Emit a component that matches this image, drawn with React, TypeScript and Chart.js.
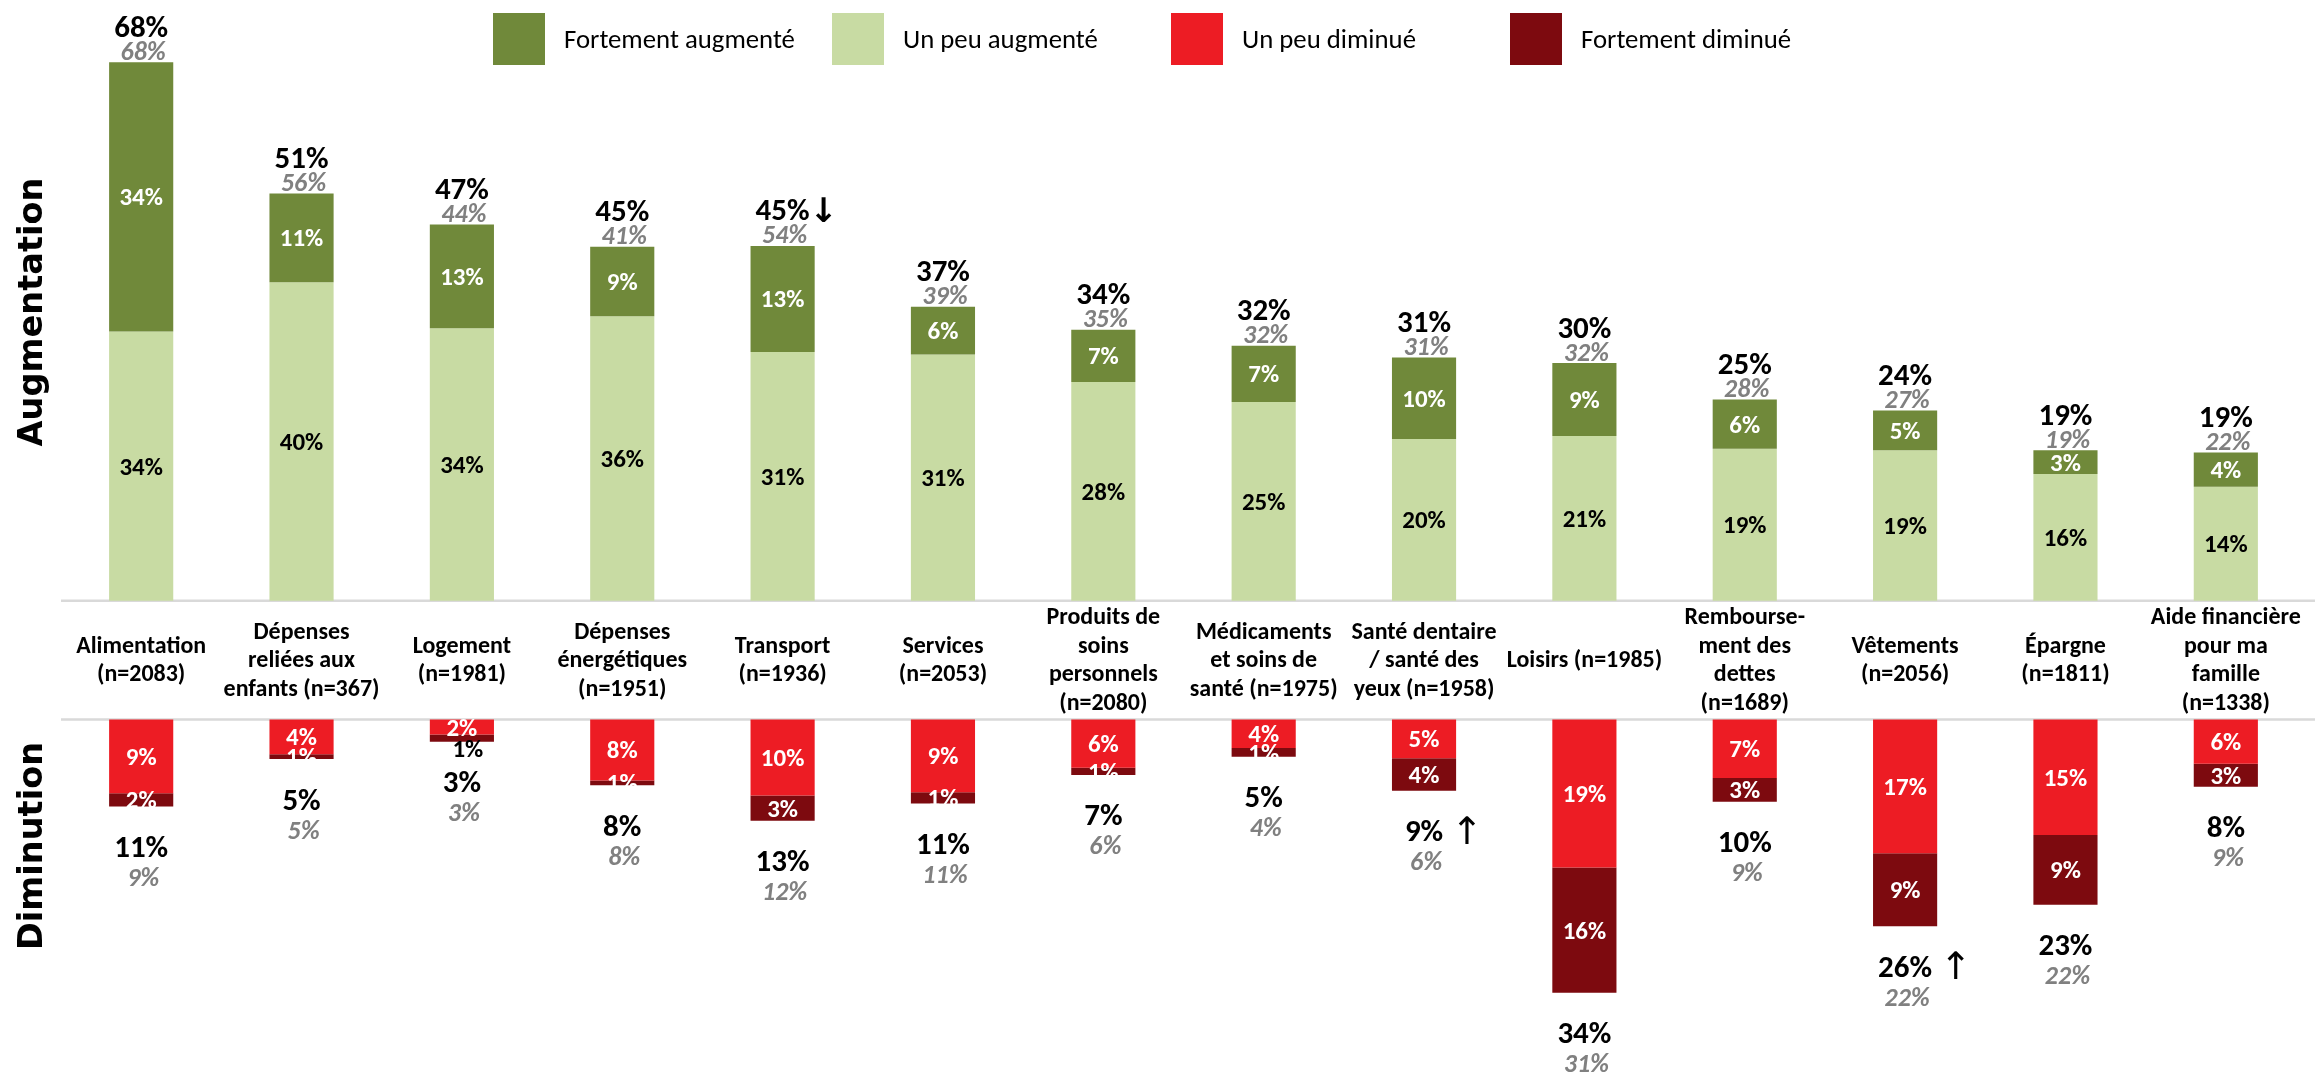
import React, { useEffect, useRef } from "react";
import { Chart, registerables } from "chart.js";

Chart.register(...registerables);

const W = 2315;
const H = 1075;

// ---------- DATA ----------
const categories: string[][] = [
  ["Alimentation", "(n=2083)"],
  ["Dépenses", "reliées aux", "enfants (n=367)"],
  ["Logement", "(n=1981)"],
  ["Dépenses", "énergétiques", "(n=1951)"],
  ["Transport", "(n=1936)"],
  ["Services", "(n=2053)"],
  ["Produits de", "soins", "personnels", "(n=2080)"],
  ["Médicaments", "et soins de", "santé (n=1975)"],
  ["Santé dentaire", "/ santé des", "yeux (n=1958)"],
  ["Loisirs (n=1985)"],
  ["Rembourse-", "ment des", "dettes", "(n=1689)"],
  ["Vêtements", "(n=2056)"],
  ["Épargne", "(n=1811)"],
  ["Aide financière", "pour ma", "famille", "(n=1338)"],
];

const seriesNames = ["Fortement augmenté", "Un peu augmenté", "Un peu diminué", "Fortement diminué"];

const slightUp = [34, 40.2, 34.4, 35.9, 31.4, 31.1, 27.6, 25.1, 20.4, 20.8, 19.2, 19, 16, 14.4];
const strongUp = [34, 11.2, 13.1, 8.8, 13.4, 6, 6.6, 7.1, 10.3, 9.2, 6.2, 5, 3, 4.3];
const totalUp = [68, 51, 47, 45, 45, 37, 34, 32, 31, 30, 25, 24, 19, 19];
const prevUp = [68, 56, 44, 41, 54, 39, 35, 32, 31, 32, 28, 27, 19, 22];
const trendUp = ["", "", "", "", "↓", "", "", "", "", "", "", "", "", ""];

const slightDown = [9.3, 4.4, 1.9, 7.7, 9.6, 9.2, 6.1, 3.6, 4.9, 18.7, 7.4, 16.9, 14.6, 5.6];
const strongDown = [1.7, 0.6, 0.9, 0.6, 3.2, 1.4, 0.9, 1.1, 4.1, 15.8, 3.0, 9.2, 8.8, 2.9];
const totalDown = [11, 5, 3, 8, 13, 11, 7, 5, 9, 34, 10, 26, 23, 8];
const prevDown = [9, 5, 3, 8, 12, 11, 6, 4, 6, 31, 9, 22, 22, 9];
const trendDown = ["", "", "", "", "", "", "", "", "↑", "", "", "↑", "", ""];

// ---------- STYLE ----------
const C_STRONG_UP = "#70893A";
const C_SLIGHT_UP = "#C8DBA3";
const C_SLIGHT_DOWN = "#ED1C24";
const C_STRONG_DOWN = "#7D0A0F";
const C_GRAY_TEXT = "#808080";
const C_LINE = "#D9D9D9";

const GAP = 15; // value-space gap between upper and lower panels
const Y_MAX = 70;
const Y_MIN = -(GAP + 36);

function pickFont(cands: string[]): string {
  const c = document.createElement("canvas").getContext("2d")!;
  const t = "Fortement augmenté 0123456789%";
  for (const f of cands) {
    let ok = false;
    for (const g of ["monospace", "serif"]) {
      c.font = `40px ${g}`;
      const a = c.measureText(t).width;
      c.font = `40px "${f}", ${g}`;
      const b = c.measureText(t).width;
      if (Math.abs(a - b) > 0.5) ok = true;
    }
    if (ok) return f;
  }
  return "sans-serif";
}

export default function App() {
  const ref = useRef<HTMLCanvasElement>(null);

  useEffect(() => {
    const canvas = ref.current!;
    const F = pickFont(["Carlito", "Calibri", "Open Sans", "Noto Sans"]);
    const m = canvas.getContext("2d")!;
    m.font = `25px "${F}"`;
    const kR = 231 / m.measureText("Fortement augmenté").width;
    m.font = `bold 24px "${F}"`;
    const kB = 130 / m.measureText("Alimentation").width;
    m.font = `bold 33px "DejaVu Sans"`;
    const tSize = (33 * 269) / m.measureText("Augmentation").width;

    const fR = (s: number) => `${(s * kR).toFixed(2)}px "${F}"`;
    const fB = (s: number) => `bold ${(s * kB).toFixed(2)}px "${F}"`;
    const fBI = (s: number) => `italic bold ${(s * kB).toFixed(2)}px "${F}"`;

    const drawC = (
      ctx: CanvasRenderingContext2D,
      text: string,
      x: number,
      cy: number,
      font: string,
      color: string,
      align: CanvasTextAlign = "center"
    ) => {
      ctx.font = font;
      ctx.fillStyle = color;
      ctx.textAlign = align;
      ctx.textBaseline = "alphabetic";
      const mm = ctx.measureText(text);
      const asc = mm.actualBoundingBoxAscent;
      const desc = mm.actualBoundingBoxDescent;
      ctx.fillText(text, x, cy + (asc - desc) / 2);
      return mm.width;
    };

    const plugin = {
      id: "customDraw",
      beforeDatasetsDraw(chart: any) {
        const { ctx, chartArea, scales } = chart;
        const y = scales.y;
        ctx.save();
        ctx.strokeStyle = C_LINE;
        ctx.lineWidth = 2.5;
        [0, -GAP].forEach((v) => {
          const py = y.getPixelForValue(v);
          ctx.beginPath();
          ctx.moveTo(chartArea.left, py);
          ctx.lineTo(W, py);
          ctx.stroke();
        });
        ctx.restore();
      },
      afterDatasetsDraw(chart: any) {
        const { ctx, scales } = chart;
        const y = scales.y;
        const metas = [0, 1, 2, 3].map((i) => chart.getDatasetMeta(i));
        ctx.save();

        const inner = fB(25);
        categories.forEach((lines, i) => {
          const eStrong = metas[0].data[i];
          const eSlight = metas[1].data[i];
          const eRed = metas[2].data[i];
          const eDark = metas[3].data[i];
          const x = eStrong.x;
          const mid = (e: any) => (e.y + e.base) / 2;

          // upper segment labels
          drawC(ctx, `${Math.round(slightUp[i])}%`, x, mid(eSlight), inner, "#000");
          drawC(ctx, `${Math.round(strongUp[i])}%`, x, mid(eStrong), inner, "#fff");

          // upper totals
          const top = Math.min(eStrong.y, eStrong.base);
          const wT = drawC(ctx, `${totalUp[i]}%`, x, top - 36, fB(31), "#000");
          if (trendUp[i]) {
            drawC(ctx, trendUp[i], x + wT / 2, top - 36, `bold 34px "DejaVu Sans"`, "#000", "left");
          }
          drawC(ctx, `${prevUp[i]}%`, x + 2, top - 12, fBI(26), C_GRAY_TEXT);

          // lower segment labels
          drawC(ctx, `${Math.round(slightDown[i])}%`, x, mid(eRed), inner, "#fff");
          const bottom = Math.max(eDark.y, eDark.base);
          if (slightDown[i] + strongDown[i] < 4) {
            drawC(ctx, `${Math.round(strongDown[i])}%`, x + 6, bottom + 7, inner, "#000");
          } else {
            drawC(ctx, `${Math.round(strongDown[i])}%`, x, mid(eDark), inner, "#fff");
          }

          // lower totals
          const wD = drawC(ctx, `${totalDown[i]}%`, x, bottom + 40, fB(31), "#000");
          if (trendDown[i]) {
            drawC(ctx, trendDown[i], x + wD / 2 + 8, bottom + 39, `38px "DejaVu Sans"`, "#000", "left");
          }
          drawC(ctx, `${prevDown[i]}%`, x + 2, bottom + 70, fBI(26), C_GRAY_TEXT);

          // category labels in gap
          const cyMid = (y.getPixelForValue(0) + y.getPixelForValue(-GAP)) / 2 - 1;
          const lh = 28.5;
          ctx.font = fB(24);
          const capH = ctx.measureText("H").actualBoundingBoxAscent;
          lines.forEach((ln, j) => {
            const cy = cyMid + (j - (lines.length - 1) / 2) * lh;
            ctx.font = fB(24);
            ctx.fillStyle = "#000";
            ctx.textAlign = "center";
            ctx.textBaseline = "alphabetic";
            ctx.fillText(ln, x, cy + capH / 2);
          });
        });

        // axis titles
        const drawTitle = (text: string, cy: number) => {
          ctx.save();
          ctx.translate(42, cy);
          ctx.rotate(-Math.PI / 2);
          ctx.font = `bold ${tSize.toFixed(2)}px "DejaVu Sans"`;
          ctx.fillStyle = "#000";
          ctx.textAlign = "center";
          ctx.textBaseline = "alphabetic";
          ctx.fillText(text, 0, 0);
          ctx.restore();
        };
        drawTitle("Augmentation", 312);
        drawTitle("Diminution", 846);

        // legend
        const ds = chart.data.datasets;
        ds.forEach((d: any, k: number) => {
          const sx = 493 + k * 339;
          ctx.fillStyle = d.backgroundColor;
          ctx.fillRect(sx, 13, 52, 52);
          ctx.font = fR(25);
          ctx.fillStyle = "#000";
          ctx.textAlign = "left";
          ctx.textBaseline = "alphabetic";
          const capL = ctx.measureText("F").actualBoundingBoxAscent;
          ctx.fillText(d.label, sx + 71, 39 + capL / 2);
        });

        ctx.restore();
      },
    };

    const common = { barPercentage: 0.4, categoryPercentage: 1, borderWidth: 0 };

    const chart = new Chart(canvas, {
      type: "bar",
      data: {
        labels: categories.map((c) => c.join(" ")),
        datasets: [
          {
            label: seriesNames[0],
            data: slightUp.map((v, i) => [v, v + strongUp[i]]),
            backgroundColor: C_STRONG_UP,
            ...common,
          },
          {
            label: seriesNames[1],
            data: slightUp.map((v) => [0, v]),
            backgroundColor: C_SLIGHT_UP,
            ...common,
          },
          {
            label: seriesNames[2],
            data: slightDown.map((v) => [-GAP, -GAP - v]),
            backgroundColor: C_SLIGHT_DOWN,
            ...common,
          },
          {
            label: seriesNames[3],
            data: slightDown.map((v, i) => [-GAP - v, -GAP - v - strongDown[i]]),
            backgroundColor: C_STRONG_DOWN,
            ...common,
          },
        ] as any,
      },
      options: {
        animation: false,
        responsive: false,
        devicePixelRatio: 1,
        layout: { padding: { left: 61, right: 9, top: 46.3, bottom: 70.4 } },
        plugins: { legend: { display: false }, tooltip: { enabled: false } },
        scales: {
          x: { display: false, stacked: true, grid: { display: false } },
          y: { display: false, stacked: false, min: Y_MIN, max: Y_MAX, grid: { display: false } },
        },
      },
      plugins: [plugin as any],
    });

    return () => chart.destroy();
  }, []);

  return (
    <div style={{ position: "absolute", left: 0, top: 0, width: W, height: H, background: "#fff" }}>
      <canvas ref={ref} width={W} height={H} style={{ display: "block", width: W, height: H }} />
    </div>
  );
}
